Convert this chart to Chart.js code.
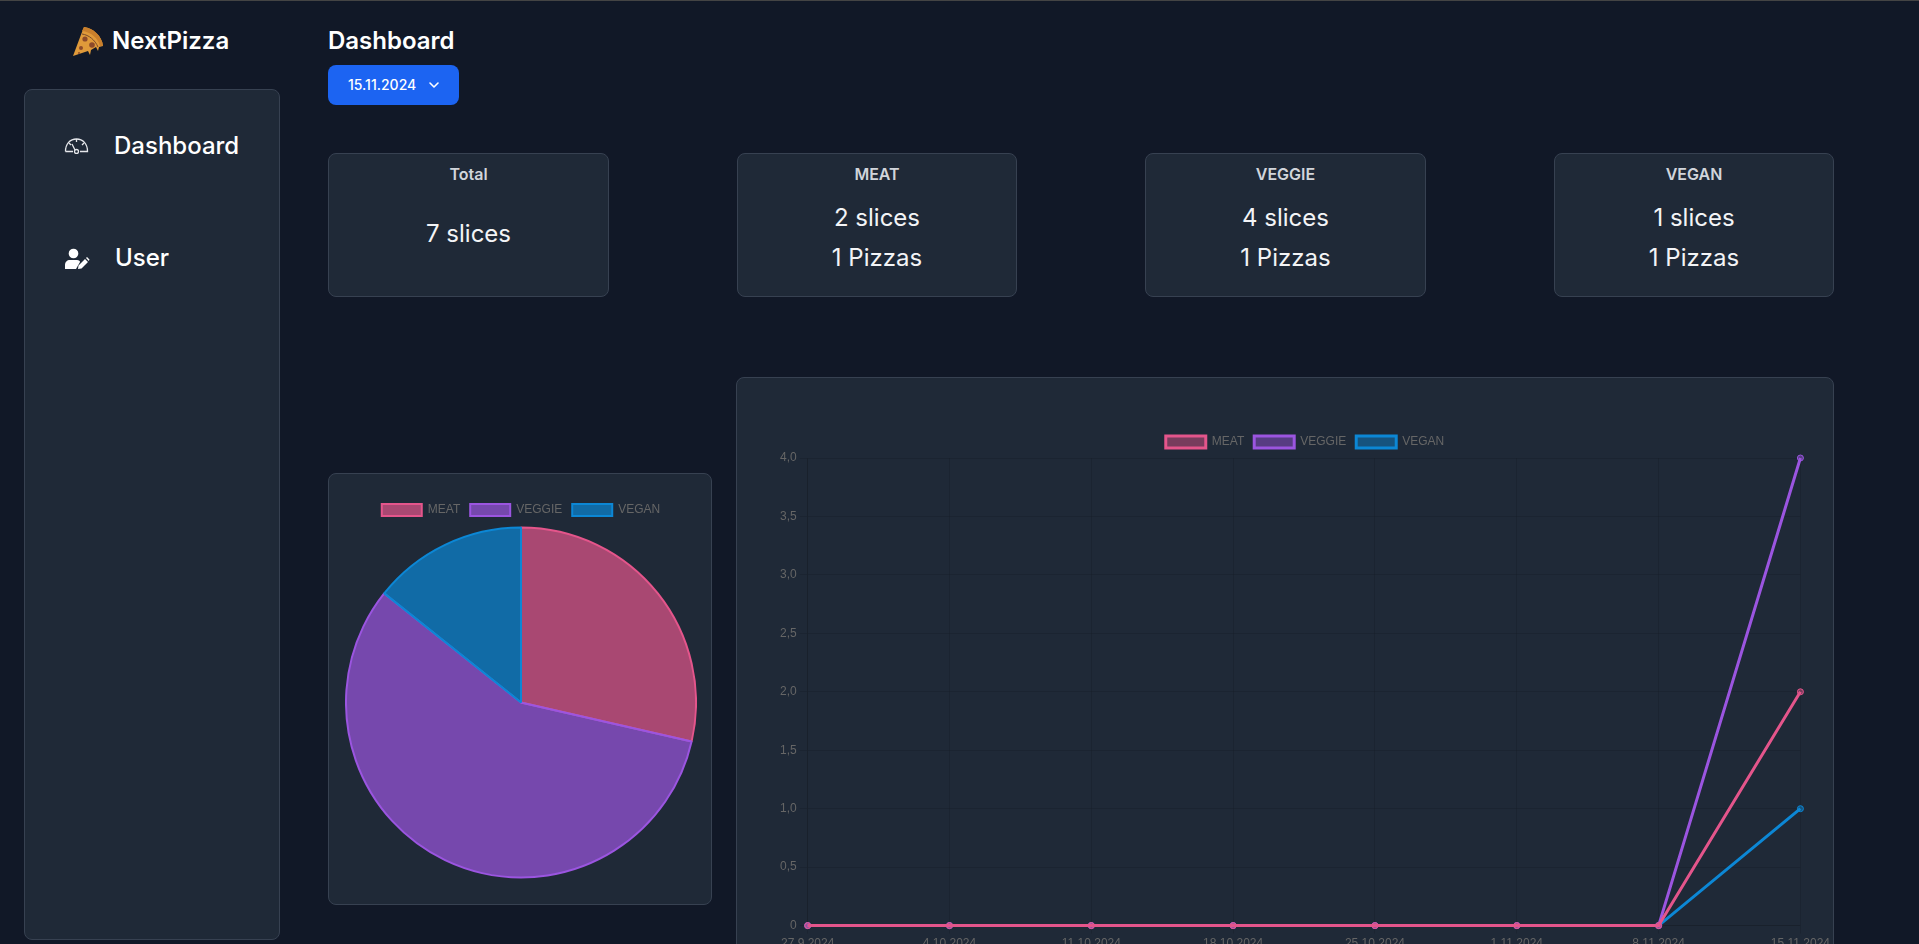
<!DOCTYPE html>
<html>
<head>
<meta charset="utf-8">
<title>NextPizza</title>
<script src="https://cdn.jsdelivr.net/npm/chart.js@4"></script>
<style>
  html, body { margin: 0; height: 100%; overflow: hidden; background: #111827; color: #fff; font-family: Inter, sans-serif; }
  body { position: relative; width: 1919px; height: 944px; border-top: 1px solid #444; box-sizing: border-box; }
  .abs { position: absolute; }
  .card { position: absolute; background: #1f2937; border: 1px solid #374151; border-radius: 8px; box-sizing: border-box; }
  .brand { left: 112px; top: 24px; font-size: 24px; font-weight: 600; line-height: 32px; }
  .title { left: 328px; top: 24px; font-size: 24px; font-weight: 600; line-height: 32px; }
  .btn { left: 328px; top: 64px; width: 131px; height: 40px; background: #1c64f2; border-radius: 8px; font-size: 14px; font-weight: 500; line-height: 40px; padding-left: 20px; box-sizing: border-box; }
  .btn svg { position: absolute; left: 100px; top: 14px; }
  .nav { left: 114px; font-size: 24px; font-weight: 500; line-height: 32px; }
  .stat { width: 280px; height: 144px; top: 152px; text-align: center; }
  .stat h5 { margin: 0; position: absolute; left: 0; right: 0; top: 8px; font-size: 16px; font-weight: 600; line-height: 24px; color: #d1d5db; }
  .stat div { position: absolute; left: 0; right: 0; font-size: 24px; line-height: 32px; color: #f3f4f6; }
  .chart-box { position: absolute; }
</style>
</head>
<body>
  <svg class="abs" style="left:73px;top:25px" width="31" height="31" viewBox="0 0 31 31">
    <path d="M0 30 L9 6 L11 1 C20 2 29 10 30 20 L26 21 L25 25 L23 21 L18 24 L17 29 L15 25 Z" fill="#e09a3a"/>
    <path d="M11 1 C20 2 29 10 30 20 L27 20 C25 12 18 6 9 5 Z" fill="#c97f2c"/>
    <path d="M9 8 C16 9 22 14 25 21" stroke="#7a4a2a" stroke-width="1" fill="none"/>
    <circle cx="12" cy="13" r="2.6" fill="#8c4a2a"/><circle cx="8" cy="22" r="2" fill="#8c4a2a"/><circle cx="19" cy="19" r="2.8" fill="#8c4a2a"/><circle cx="6" cy="27" r="1" fill="#8c4a2a"/>
  </svg>
  <div class="abs brand">NextPizza</div>
  <div class="abs title">Dashboard</div>
  <div class="abs btn">15.11.2024
    <svg width="12" height="12" viewBox="0 0 12 12"><path d="M2 4 L6 8 L10 4" stroke="#fff" stroke-width="1.6" fill="none" stroke-linecap="round" stroke-linejoin="round"/></svg>
  </div>

  <div class="card" style="left:24px;top:88px;width:256px;height:851px"></div>
  <svg class="abs" style="left:64px;top:136px" width="25" height="17" viewBox="0 0 25 17" fill="none" stroke="#e5e7eb" stroke-width="1.3">
    <path d="M1.5 14.5 C1.5 7 6 2 12.5 2 C19 2 23.5 7 23.5 14.5 L16 14.5 M9 14.5 L1.5 14.5"/>
    <path d="M12.5 2 V5 M5 6 L7 8 M20 6 L18 8 M8 7 L11 13"/><circle cx="12.5" cy="14.5" r="2"/>
  </svg>
  <div class="abs nav" style="top:129px">Dashboard</div>
  <svg class="abs" style="left:64px;top:247px" width="26" height="22" viewBox="0 0 26 22" fill="#fff">
    <circle cx="9.5" cy="5.5" r="4.8"/><path d="M1 21 V17 C1 14 3 12 6 12 H13 C15 12 16 13 16 14 L12 21 Z"/>
    <path d="M14 21 L14.5 17.5 L21 11 L24 14 L17.5 20.5 Z M22 10 L23 9 L25.5 11.5 L24.8 13 Z"/>
  </svg>
  <div class="abs nav" style="top:241px;left:115px">User</div>

  <div class="card stat" style="left:328px;width:281px"><h5>Total</h5><div style="top:64px">7 slices</div></div>
  <div class="card stat" style="left:737px"><h5>MEAT</h5><div style="top:48px">2 slices</div><div style="top:88px">1 Pizzas</div></div>
  <div class="card stat" style="left:1145px;width:281px"><h5>VEGGIE</h5><div style="top:48px">4 slices</div><div style="top:88px">1 Pizzas</div></div>
  <div class="card stat" style="left:1554px"><h5>VEGAN</h5><div style="top:48px">1 slices</div><div style="top:88px">1 Pizzas</div></div>

  <div class="card" style="left:328px;top:472px;width:384px;height:432px"></div>
  <div class="chart-box" style="left:345px;top:493px;width:352px;height:385px"><canvas id="pieChart"></canvas></div>

  <div class="card" style="left:736px;top:376px;width:1098px;height:600px"></div>
  <div class="chart-box" style="left:777px;top:425px;width:1056px;height:528px"><canvas id="lineChart"></canvas></div>

<script>
const categories = ['MEAT', 'VEGGIE', 'VEGAN'];
const sliceTotals = [2, 4, 1];
const dates = ['27.9.2024', '4.10.2024', '11.10.2024', '18.10.2024', '25.10.2024', '1.11.2024', '8.11.2024', '15.11.2024'];
const meatValues = [0, 0, 0, 0, 0, 0, 0, 2];
const veggieValues = [0, 0, 0, 0, 0, 0, 0, 4];
const veganValues = [0, 0, 0, 0, 0, 0, 0, 1];
const borderColors = ['rgb(228,85,139)', 'rgb(155,85,224)', 'rgb(12,135,213)'];
const pieFills = ['rgba(228,85,139,0.7)', 'rgba(155,85,224,0.7)', 'rgba(12,135,213,0.7)'];
const lineFills = ['rgba(228,85,139,0.45)', 'rgba(155,85,224,0.45)', 'rgba(12,135,213,0.45)'];

Chart.defaults.font.family = '"Liberation Sans", Arial, sans-serif';
Chart.defaults.color = '#666';

new Chart(document.getElementById('pieChart'), {
    type: 'pie',
    data: {
        labels: categories,
        datasets: [{
            data: sliceTotals,
            backgroundColor: pieFills,
            borderColor: borderColors,
            borderWidth: 2
        }]
    },
    options: {
        responsive: true,
        maintainAspectRatio: false,
        animation: false
    }
});

const lineSeries = [meatValues, veggieValues, veganValues];
new Chart(document.getElementById('lineChart'), {
    type: 'line',
    data: {
        labels: dates,
        datasets: categories.map((name, i) => ({
            label: name,
            data: lineSeries[i],
            borderColor: borderColors[i],
            backgroundColor: lineFills[i],
            borderWidth: 3,
            pointBorderWidth: 1,
            pointRadius: 3
        }))
    },
    options: {
        responsive: true,
        maintainAspectRatio: false,
        animation: false,
        locale: 'de-DE',
        scales: {
            y: { beginAtZero: true },
            x: { ticks: { maxRotation: 0 } }
        }
    }
});
</script>
</body>
</html>
